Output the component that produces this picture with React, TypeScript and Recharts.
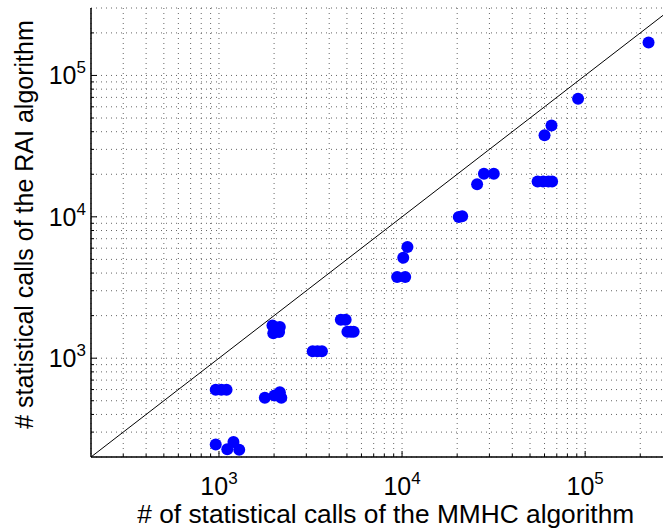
import React from "react";
import {
  ScatterChart,
  Scatter,
  XAxis,
  YAxis,
  CartesianGrid,
  ReferenceLine,
} from "recharts";

// statistical calls per network: MMHC (x) against RAI (y)
const mmhcCalls = [
  960, 1110, 1200, 1290,
  960, 1030, 1100,
  1960, 2150, 1980, 2130,
  1780, 2010, 2150, 2190,
  3250, 3450, 3650,
  4630, 4920,
  5030, 5250, 5440,
  9400, 10400, 10150, 10700,
  20400, 21300,
  25700, 28000, 31700,
  55000, 59000, 63000, 66000,
  60000, 65500, 91500, 222000,
];
const raiCalls = [
  245, 227, 255, 225,
  597, 597, 597,
  1700, 1660, 1500, 1530,
  524, 544, 574, 524,
  1120, 1120, 1120,
  1870, 1870,
  1540, 1540, 1540,
  3750, 3750, 5140, 6110,
  9970, 10080,
  17000, 20200, 20200,
  17800, 17800, 17800, 17800,
  37800, 44200, 68300, 171000,
];

const axisDomain = [200, 300000];
const decadeTicks = [1000, 10000, 100000];
// every 1..9 x 10^k step inside the axis range, for ticks and dotted grid
const minorTicks = [
  300, 400, 500, 600, 700, 800, 900,
  1000, 2000, 3000, 4000, 5000, 6000, 7000, 8000, 9000,
  10000, 20000, 30000, 40000, 50000, 60000, 70000, 80000, 90000,
  100000, 200000,
];

const xLabel = "# of statistical calls of the MMHC algorithm";
const yLabel = "# statistical calls of the RAI algorithm";

const points = mmhcCalls.map((x, i) => ({ x, y: raiCalls[i] }));

const FONT = "'Liberation Sans', Arial, Helvetica, sans-serif";

const isDecade = (v: number) => decadeTicks.includes(v);

const PowerTick = (props: any) => {
  const { x, y, payload, side } = props;
  const v = payload.value as number;
  const major = isDecade(v);
  const len = major ? 6 : 3;
  const exp = Math.round(Math.log10(v));
  if (side === "bottom") {
    return (
      <g>
        <line x1={x} y1={y} x2={x} y2={y - len} stroke="#000" strokeWidth={1} />
        {major && (
          <text x={x} y={y + 38} textAnchor="middle" fontSize={25} fontFamily={FONT} fill="#000">
            10
            <tspan dy={-11} fontSize={17}>{exp}</tspan>
          </text>
        )}
      </g>
    );
  }
  if (side === "top") {
    return <line x1={x} y1={y} x2={x} y2={y + len} stroke="#000" strokeWidth={1} />;
  }
  return (
    <g>
      <line x1={x} y1={y} x2={x + len} y2={y} stroke="#000" strokeWidth={1} />
      {major && (
        <text x={x - 5} y={y + 9} textAnchor="end" fontSize={25} fontFamily={FONT} fill="#000">
          10
          <tspan dy={-11} fontSize={17}>{exp}</tspan>
        </text>
      )}
    </g>
  );
};

const Dot = (props: any) => <circle cx={props.cx} cy={props.cy} r={6} fill="#0000ff" />;

export default function App() {
  return (
    <div style={{ position: "absolute", left: 0, top: 0, width: 663, height: 529, overflow: "hidden", background: "#fff" }}>
      <ScatterChart width={680} height={529} margin={{ top: 8, right: 7.5, bottom: 0, left: 0 }}>
        <CartesianGrid stroke="#666" strokeDasharray="1 4" strokeWidth={1} />
        <XAxis
          type="number"
          dataKey="x"
          scale="log"
          domain={axisDomain}
          ticks={minorTicks}
          allowDataOverflow
          height={72}
          tickSize={0}
          tickMargin={0}
          axisLine={{ stroke: "#000", strokeWidth: 1.5 }}
          tick={<PowerTick side="bottom" />}
          interval={0}
          label={{
            content: ({ viewBox }: any) => (
              <text
                x={viewBox.x + viewBox.width / 2 + 4}
                y={viewBox.y + viewBox.height - 6}
                textAnchor="middle"
                fontSize={26.3}
                fontFamily={FONT}
                fill="#000"
              >
                {xLabel}
              </text>
            ),
          }}
        />
        <XAxis
          xAxisId="top"
          orientation="top"
          type="number"
          dataKey="x"
          scale="log"
          domain={axisDomain}
          ticks={minorTicks}
          allowDataOverflow
          height={0}
          tickSize={0}
          tickMargin={0}
          axisLine={{ stroke: "#000", strokeWidth: 1.5 }}
          tick={<PowerTick side="top" />}
          interval={0}
        />
        <YAxis
          type="number"
          dataKey="y"
          scale="log"
          domain={axisDomain}
          ticks={minorTicks}
          allowDataOverflow
          width={91}
          tickSize={0}
          tickMargin={0}
          axisLine={{ stroke: "#000", strokeWidth: 1.5 }}
          tick={<PowerTick side="left" />}
          interval={0}
          label={{
            content: ({ viewBox }: any) => {
              const cx = 33;
              const cy = viewBox.y + viewBox.height / 2 - 8;
              return (
                <text
                  x={cx}
                  y={cy}
                  transform={`rotate(-90 ${cx} ${cy})`}
                  textAnchor="middle"
                  fontSize={25}
                  fontFamily={FONT}
                  fill="#000"
                >
                  {yLabel}
                </text>
              );
            },
          }}
        />
        <ReferenceLine
          segment={[
            { x: 200, y: 200 },
            { x: 300000, y: 300000 },
          ]}
          stroke="#000"
          strokeWidth={1}
        />
        <Scatter data={points} isAnimationActive={false} shape={<Dot />} />
      </ScatterChart>
    </div>
  );
}
